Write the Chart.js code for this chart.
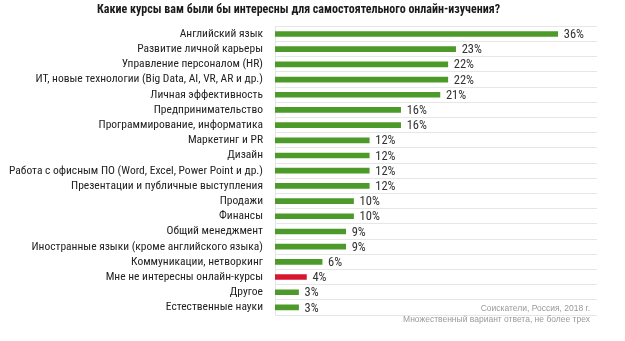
<!DOCTYPE html>
<html>
<head>
<meta charset="utf-8">
<script src="https://cdn.jsdelivr.net/npm/chart.js@4/dist/chart.umd.min.js"></script>
<style>
    html, body { margin: 0; padding: 0; background: #fff; }
    #wrap { width: 625px; height: 341px; position: relative; }
</style>
</head>
<body>
<div id="wrap"><canvas id="myChart"></canvas></div>
<script>
let titleText = 'Какие курсы вам были бы интересны для самостоятельного онлайн-изучения?'
let categories = [
    'Английский язык',
    'Развитие личной карьеры',
    'Управление персоналом (HR)',
    'ИТ, новые технологии (Big Data, AI, VR, AR и др.)',
    'Личная эффективность',
    'Предпринимательство',
    'Программирование, информатика',
    'Маркетинг и PR',
    'Дизайн',
    'Работа с офисным ПО (Word, Excel, Power Point и др.)',
    'Презентации и публичные выступления',
    'Продажи',
    'Финансы',
    'Общий менеджмент',
    'Иностранные языки (кроме английского языка)',
    'Коммуникации, нетворкинг',
    'Мне не интересны онлайн-курсы',
    'Другое',
    'Естественные науки'
]
let values = [36, 23, 22, 22, 21, 16, 16, 12, 12, 12, 12, 10, 10, 9, 9, 6, 4, 3, 3]
let highlighted = ['Мне не интересны онлайн-курсы']
let footnotes = ['Соискатели, Россия, 2018 г.', 'Множественный вариант ответа, не более трех']

let narrow = "'Roboto Condensed', 'DejaVu Sans Condensed', sans-serif"
let green = '#4c9a2a'
let red = '#d7172f'

let barColors = categories.map(function (c) {
    return highlighted.includes(c) ? red : green
})

// percent labels to the right of each bar
let valueLabels = {
    id: 'valueLabels',
    afterDatasetsDraw(chart) {
        let ctx = chart.ctx
        let meta = chart.getDatasetMeta(0)
        ctx.save()
        ctx.font = '12.5px ' + narrow
        ctx.fillStyle = '#333'
        ctx.textAlign = 'left'
        ctx.textBaseline = 'middle'
        meta.data.forEach(function (bar, i) {
            ctx.fillText(values[i] + '%', bar.x + 6, bar.y + 1)
        })
        ctx.restore()
    }
}

// source note in the bottom right corner
let footnote = {
    id: 'footnote',
    afterDraw(chart) {
        let ctx = chart.ctx
        let area = chart.chartArea
        ctx.save()
        ctx.font = '8.5px "Liberation Sans", Arial, sans-serif'
        ctx.fillStyle = '#9a9a9a'
        ctx.textAlign = 'right'
        ctx.textBaseline = 'middle'
        ctx.fillText(footnotes[0], area.right - 7, 309)
        ctx.fillText(footnotes[1], area.right - 7, 320)
        ctx.restore()
    }
}

let ctx = document.getElementById('myChart').getContext('2d')
let chart = new Chart(ctx, {
    type: 'bar',
    data: {
        labels: categories,
        datasets: [{
            data: values,
            backgroundColor: barColors,
            barThickness: 5
        }]
    },
    plugins: [valueLabels, footnote],
    options: {
        indexAxis: 'y',
        responsive: true,
        maintainAspectRatio: false,
        animation: false,
        layout: {
            padding: { left: 0, right: 28, top: 0, bottom: 26 }
        },
        plugins: {
            legend: { display: false },
            tooltip: { enabled: false },
            title: {
                display: true,
                text: titleText,
                color: '#1a1a1a',
                font: { family: narrow, size: 12, weight: 'bold' },
                padding: { top: 3, bottom: 9 }
            }
        },
        scales: {
            x: {
                display: false,
                min: 0,
                max: 41
            },
            y: {
                afterFit(scale) {
                    scale.width = 275
                },
                grid: {
                    color: '#e6e6e6',
                    drawTicks: false
                },
                border: { color: '#e6e6e6' },
                ticks: {
                    color: '#222',
                    padding: 12,
                    autoSkip: false,
                    font: { family: narrow, size: 11.5 }
                }
            }
        }
    }
})
</script>
</body>
</html>
